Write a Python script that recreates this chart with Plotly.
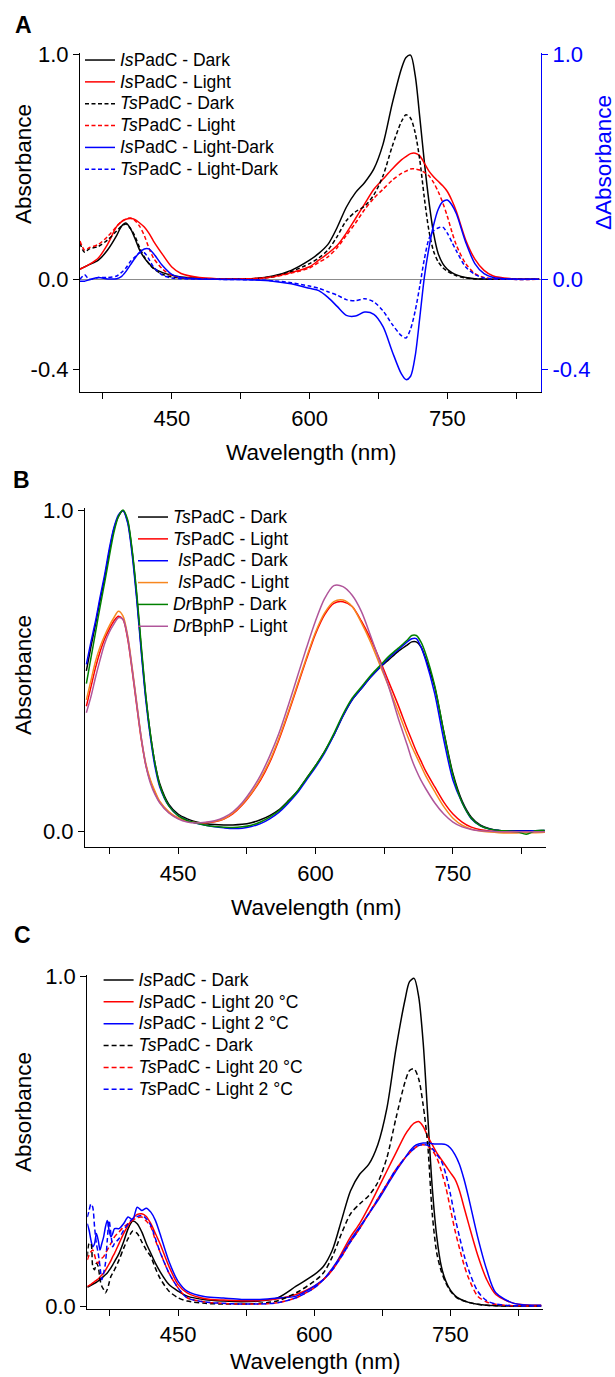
import plotly.graph_objects as go

# ---------------- data ----------------
WL_A = [350, 355, 360, 370, 380, 390, 395, 400, 405, 410, 415, 420, 425, 430, 440, 450, 460, 480, 500, 520,
        540, 560, 580, 600, 610, 620, 630, 640, 650, 660, 670, 680, 690, 700, 705, 710, 715, 720, 725, 730,
        735, 740, 745, 750, 755, 760, 770, 780, 790, 800, 820, 850]
A_IS_DARK = [0.045, 0.055, 0.065, 0.085, 0.13, 0.195, 0.235, 0.25, 0.225, 0.18, 0.13, 0.095, 0.07, 0.05, 0.03, 0.018, 0.01, 0.004, 0.002, 0.002,
             0.004, 0.015, 0.04, 0.085, 0.115, 0.155, 0.23, 0.32, 0.385, 0.43, 0.49, 0.60, 0.78, 0.935, 0.985, 0.995, 0.905, 0.72, 0.52, 0.345,
             0.205, 0.115, 0.07, 0.045, 0.03, 0.02, 0.008, 0.003, 0.001, 0.0, 0.0, 0.0]
A_IS_LIGHT = [0.045, 0.055, 0.066, 0.095, 0.155, 0.235, 0.255, 0.267, 0.27, 0.265, 0.25, 0.232, 0.205, 0.17, 0.11, 0.055, 0.026, 0.008, 0.003, 0.002,
              0.004, 0.012, 0.03, 0.056, 0.085, 0.115, 0.15, 0.205, 0.27, 0.335, 0.40, 0.445, 0.49, 0.53, 0.545, 0.558, 0.56, 0.548, 0.515, 0.48,
              0.455, 0.435, 0.415, 0.39, 0.35, 0.30, 0.175, 0.09, 0.04, 0.015, 0.003, 0.0]
A_TS_DARK = [0.16, 0.12, 0.135, 0.146, 0.175, 0.215, 0.235, 0.245, 0.225, 0.19, 0.14, 0.10, 0.07, 0.048, 0.022, 0.011, 0.006, 0.003, 0.002, 0.002,
             0.003, 0.012, 0.035, 0.07, 0.095, 0.13, 0.19, 0.26, 0.30, 0.325, 0.375, 0.46, 0.59, 0.70, 0.73, 0.715, 0.65, 0.53, 0.36, 0.215,
             0.125, 0.078, 0.052, 0.036, 0.025, 0.016, 0.006, 0.002, 0.001, 0.0, 0.0, 0.0]
A_TS_LIGHT = [0.17, 0.13, 0.14, 0.155, 0.19, 0.235, 0.257, 0.268, 0.272, 0.26, 0.235, 0.195, 0.14, 0.095, 0.045, 0.018, 0.008, 0.003, 0.002, 0.002,
              0.003, 0.01, 0.028, 0.05, 0.075, 0.10, 0.14, 0.195, 0.25, 0.31, 0.36, 0.40, 0.44, 0.47, 0.48, 0.49, 0.49, 0.485, 0.475, 0.46,
              0.43, 0.39, 0.34, 0.28, 0.21, 0.15, 0.07, 0.025, 0.008, 0.003, 0.0, 0.0]
A_IS_DIFF = [-0.008, -0.008, -0.002, 0.008, 0.002, 0.003, 0.012, 0.035, 0.065, 0.095, 0.12, 0.135, 0.135, 0.115, 0.06, 0.022, 0.008, 0.002, 0.0, -0.001,
             -0.003, -0.008, -0.02, -0.04, -0.05, -0.08, -0.12, -0.16, -0.163, -0.145, -0.155, -0.21, -0.32, -0.42, -0.445, -0.43, -0.34, -0.17, 0.01, 0.14,
             0.24, 0.31, 0.345, 0.352, 0.33, 0.29, 0.165, 0.07, 0.025, 0.008, 0.001, 0.0]
A_TS_DIFF = [0.0, 0.02, 0.0, 0.008, 0.008, 0.015, 0.03, 0.05, 0.08, 0.10, 0.118, 0.118, 0.09, 0.055, 0.018, 0.006, 0.003, 0.001, 0.0, -0.001,
             -0.002, -0.006, -0.015, -0.03, -0.04, -0.055, -0.07, -0.09, -0.095, -0.086, -0.10, -0.14, -0.20, -0.25, -0.26, -0.22, -0.14, -0.03, 0.09, 0.18,
             0.215, 0.228, 0.232, 0.205, 0.165, 0.125, 0.055, 0.022, 0.006, 0.002, 0.0, 0.0]

WL_B = [350, 355, 360, 365, 370, 375, 380, 385, 390, 395, 400, 405, 410, 415, 420, 425, 430,
        440, 450, 460, 470, 480, 490, 500, 510, 520, 530, 540, 550, 560, 570, 580, 590, 600, 610, 620, 630, 640, 650, 660, 670, 680, 690, 700,
        705, 710, 715, 720,
        730, 740, 750, 760, 770, 780, 790, 800, 810, 820, 830, 840, 850]
B_TS_DARK = [0.50, 0.575, 0.645, 0.72, 0.79, 0.87, 0.94, 0.98, 0.998, 0.965, 0.87, 0.73, 0.565, 0.415, 0.30, 0.21, 0.15,
             0.085, 0.055, 0.04, 0.03, 0.025, 0.022, 0.021, 0.021, 0.023, 0.028, 0.037, 0.05, 0.068, 0.095, 0.125, 0.165, 0.205, 0.25, 0.30, 0.36, 0.41, 0.445, 0.48, 0.51, 0.535, 0.56, 0.58,
             0.59, 0.59, 0.575, 0.54,
             0.45, 0.31, 0.18, 0.095, 0.045, 0.02, 0.009, 0.004, 0.003, 0.003, 0.003, 0.003, 0.004]
B_TS_LIGHT = [0.39, 0.45, 0.51, 0.56, 0.60, 0.63, 0.655, 0.67, 0.66, 0.60, 0.50, 0.39, 0.285, 0.205, 0.155, 0.12, 0.092,
              0.06, 0.042, 0.032, 0.028, 0.028, 0.031, 0.039, 0.056, 0.083, 0.118, 0.16, 0.215, 0.285, 0.365, 0.45, 0.535, 0.615, 0.675, 0.71, 0.715, 0.70, 0.655, 0.60, 0.535, 0.465, 0.395, 0.32,
              0.285, 0.25, 0.22, 0.19,
              0.14, 0.092, 0.055, 0.03, 0.014, 0.006, 0.002, 0.0, -0.001, -0.002, -0.002, -0.002, -0.002]
B_IS_DARK = [0.52, 0.59, 0.655, 0.73, 0.80, 0.88, 0.945, 0.985, 0.998, 0.96, 0.86, 0.72, 0.555, 0.405, 0.29, 0.20, 0.14,
             0.08, 0.05, 0.035, 0.026, 0.02, 0.015, 0.012, 0.01, 0.011, 0.016, 0.025, 0.04, 0.06, 0.088, 0.12, 0.16, 0.20, 0.245, 0.30, 0.36, 0.41, 0.445, 0.48, 0.51, 0.54, 0.565, 0.59,
             0.60, 0.60, 0.575, 0.535,
             0.43, 0.285, 0.16, 0.09, 0.04, 0.018, 0.008, 0.004, 0.002, 0.002, 0.002, 0.003, 0.004]
B_IS_LIGHT = [0.41, 0.47, 0.53, 0.575, 0.61, 0.64, 0.665, 0.685, 0.67, 0.61, 0.51, 0.40, 0.29, 0.21, 0.16, 0.125, 0.095,
              0.062, 0.043, 0.033, 0.028, 0.028, 0.032, 0.04, 0.058, 0.085, 0.12, 0.165, 0.22, 0.29, 0.37, 0.455, 0.54, 0.62, 0.68, 0.715, 0.72, 0.70, 0.65, 0.59, 0.52, 0.45, 0.375, 0.30,
              0.265, 0.235, 0.205, 0.175,
              0.125, 0.078, 0.042, 0.02, 0.008, 0.002, -0.001, -0.003, -0.004, -0.004, -0.003, -0.003, -0.002]
B_DR_DARK = [0.46, 0.54, 0.62, 0.70, 0.775, 0.855, 0.93, 0.98, 1.0, 0.97, 0.875, 0.74, 0.575, 0.42, 0.30, 0.21, 0.145,
             0.08, 0.05, 0.035, 0.027, 0.02, 0.016, 0.014, 0.013, 0.015, 0.02, 0.03, 0.045, 0.065, 0.093, 0.125, 0.165, 0.205, 0.25, 0.305, 0.365, 0.415, 0.45, 0.485, 0.515, 0.545, 0.57, 0.595,
             0.61, 0.61, 0.59, 0.555,
             0.455, 0.31, 0.175, 0.09, 0.042, 0.018, 0.008, 0.004, 0.002, 0.0, -0.008, 0.003, 0.004]
B_DR_LIGHT = [0.37, 0.42, 0.48, 0.535, 0.585, 0.62, 0.645, 0.665, 0.66, 0.605, 0.505, 0.395, 0.29, 0.205, 0.15, 0.115, 0.09,
              0.058, 0.04, 0.03, 0.027, 0.029, 0.034, 0.044, 0.062, 0.09, 0.128, 0.175, 0.235, 0.305, 0.39, 0.48, 0.57, 0.655, 0.725, 0.765, 0.762, 0.735, 0.685, 0.61, 0.53, 0.45, 0.355, 0.27,
              0.225, 0.19, 0.16, 0.135,
              0.09, 0.055, 0.03, 0.015, 0.007, 0.003, 0.001, 0.0, 0.0, 0.0, 0.0, 0.0, 0.0]

WL_C = [350, 352, 354, 356, 358, 360, 362, 364, 366, 368, 370, 372, 374, 376, 378, 380,
        385, 390, 395, 400, 405, 410, 415, 420, 425, 430,
        440, 450, 460,
        480, 500, 520, 540, 560, 580,
        600,
        610, 620, 630, 640, 650, 660, 670, 680, 690, 700,
        705, 710, 715, 720, 725, 730, 735, 740, 745, 750, 755, 760, 765, 770,
        780, 790, 800, 820, 850]
C_IS_DARK = [0.057, 0.06, 0.063, 0.066, 0.069, 0.072, 0.076, 0.08, 0.085, 0.09, 0.095, 0.10, 0.108, 0.116, 0.125, 0.135,
             0.16, 0.195, 0.235, 0.258, 0.25, 0.225, 0.19, 0.16, 0.13, 0.105,
             0.065, 0.045, 0.03,
             0.019, 0.015, 0.013, 0.015, 0.025, 0.06,
             0.095,
             0.12, 0.17, 0.26, 0.35, 0.40, 0.43, 0.49, 0.60, 0.78, 0.93,
             0.985, 0.995, 0.94, 0.80, 0.58, 0.36, 0.21, 0.12, 0.075, 0.048, 0.032, 0.022, 0.016, 0.011,
             0.005, 0.002, 0.001, 0.0, 0.0]
C_IS_L20 = [0.06, 0.062, 0.066, 0.07, 0.074, 0.078, 0.082, 0.088, 0.094, 0.10, 0.108, 0.118, 0.128, 0.138, 0.15, 0.16,
            0.19, 0.22, 0.245, 0.265, 0.278, 0.28, 0.272, 0.25, 0.22, 0.19,
            0.12, 0.065, 0.04,
            0.022, 0.018, 0.016, 0.017, 0.022, 0.035,
            0.06,
            0.08, 0.11, 0.16, 0.21, 0.25, 0.30, 0.355, 0.41, 0.465, 0.52,
            0.54, 0.555, 0.56, 0.545, 0.515, 0.49, 0.465, 0.445, 0.425, 0.405, 0.385, 0.35, 0.30, 0.25,
            0.155, 0.08, 0.035, 0.008, 0.002]
C_IS_L2 = [0.25, 0.23, 0.20, 0.18, 0.19, 0.22, 0.20, 0.17, 0.19, 0.21, 0.24, 0.26, 0.23, 0.21, 0.22, 0.235,
           0.235, 0.25, 0.27, 0.262, 0.30, 0.29, 0.297, 0.285, 0.26, 0.22,
           0.135, 0.075, 0.045,
           0.028, 0.024, 0.02, 0.02, 0.024, 0.03,
           0.06,
           0.08, 0.115, 0.155, 0.20, 0.24, 0.28, 0.32, 0.365, 0.41, 0.45,
           0.47, 0.485, 0.492, 0.495, 0.495, 0.493, 0.492, 0.492, 0.49, 0.48, 0.46, 0.43, 0.385, 0.33,
           0.21, 0.11, 0.04, 0.008, 0.002]
C_TS_DARK = [0.15, 0.19, 0.19, 0.12, 0.11, 0.13, 0.12, 0.08, 0.06, 0.05, 0.04, 0.05, 0.07, 0.09, 0.10, 0.11,
             0.14, 0.175, 0.205, 0.228, 0.22, 0.195, 0.17, 0.15, 0.115, 0.085,
             0.045, 0.025, 0.015,
             0.008, 0.006, 0.006, 0.008, 0.016, 0.04,
             0.075,
             0.10, 0.15, 0.22, 0.28, 0.31, 0.335, 0.375, 0.45, 0.57, 0.68,
             0.715, 0.72, 0.69, 0.61, 0.49, 0.28, 0.16, 0.105, 0.07, 0.045, 0.03, 0.02, 0.015, 0.011,
             0.005, 0.002, 0.001, 0.0, 0.0]
C_TS_L20 = [0.14, 0.155, 0.165, 0.17, 0.155, 0.135, 0.13, 0.14, 0.145, 0.15, 0.16, 0.17, 0.18, 0.19, 0.20, 0.21,
            0.225, 0.24, 0.25, 0.26, 0.268, 0.27, 0.258, 0.24, 0.20, 0.165,
            0.10, 0.055, 0.025,
            0.012, 0.008, 0.006, 0.006, 0.01, 0.025,
            0.055,
            0.08, 0.11, 0.15, 0.195, 0.235, 0.28, 0.325, 0.37, 0.415, 0.45,
            0.465, 0.478, 0.487, 0.49, 0.485, 0.473, 0.45, 0.41, 0.36, 0.295, 0.23, 0.175, 0.125, 0.085,
            0.03, 0.012, 0.005, 0.001, 0.0]
C_TS_L2 = [0.27, 0.29, 0.31, 0.30, 0.24, 0.19, 0.16, 0.12, 0.08, 0.10, 0.13, 0.20, 0.26, 0.22, 0.18, 0.19,
           0.205, 0.23, 0.25, 0.265, 0.272, 0.275, 0.265, 0.245, 0.205, 0.165,
           0.10, 0.055, 0.025,
           0.012, 0.008, 0.006, 0.006, 0.01, 0.025,
           0.055,
           0.08, 0.11, 0.15, 0.195, 0.235, 0.28, 0.325, 0.37, 0.415, 0.45,
           0.465, 0.478, 0.487, 0.49, 0.488, 0.478, 0.46, 0.44, 0.40, 0.34, 0.27, 0.21, 0.155, 0.11,
           0.045, 0.016, 0.006, 0.001, 0.0]

X_TICKS = [450, 600, 750]
X_MINOR = [375, 525, 675, 825]
Y_TICKS_A = [-0.4, 0.0, 1.0]
Y_TEXT_A = ["-0.4", "0.0", "1.0"]
Y_TICKS_BC = [0.0, 1.0]
Y_TEXT_BC = ["0.0", "1.0"]

# ---------------- styling ----------------
W, H = 615, 1377
FONT = "Liberation Sans, Arial, Helvetica, sans-serif"
BLACK, RED, BLUE = "#000000", "#ff0000", "#0000ff"
ORANGE, GREEN, PURPLE = "#f7871f", "#008000", "#b0559a"
LW = 1.5
DASH_A = "4px,2.5px"
DASH_C = "5px,3px"
TITLE_SIZE = 22.5
TICK_SIZE = 22


def px(x):
    return x / W


def py(y):
    return 1 - y / H


def lab(t):
    return '<span style="font-size:17.5px">' + t + '</span>'


fig = go.Figure()


def add(x, y, name, color, dash, xa, ya, leg):
    fig.add_trace(go.Scatter(
        x=x, y=y, name=lab(name), mode="lines",
        line=dict(color=color, width=LW, dash=dash, shape="spline", smoothing=0.8),
        xaxis=xa, yaxis=ya, legend=leg, hoverinfo="skip"))


# Panel A
add(WL_A, A_IS_DARK, "<i>Is</i>PadC - Dark", BLACK, "solid", "x", "y", "legend")
add(WL_A, A_IS_LIGHT, "<i>Is</i>PadC - Light", RED, "solid", "x", "y", "legend")
add(WL_A, A_TS_DARK, "<i>Ts</i>PadC - Dark", BLACK, DASH_A, "x", "y", "legend")
add(WL_A, A_TS_LIGHT, "<i>Ts</i>PadC - Light", RED, DASH_A, "x", "y", "legend")
add(WL_A, A_IS_DIFF, "<i>Is</i>PadC - Light-Dark", BLUE, "solid", "x", "y4", "legend")
add(WL_A, A_TS_DIFF, "<i>Ts</i>PadC - Light-Dark", BLUE, DASH_A, "x", "y4", "legend")

# Panel B
add(WL_B, B_TS_DARK, "<i>Ts</i>PadC - Dark", BLACK, "solid", "x2", "y2", "legend2")
add(WL_B, B_TS_LIGHT, "<i>Ts</i>PadC - Light", RED, "solid", "x2", "y2", "legend2")
add(WL_B, B_IS_DARK, "\u00a0<i>Is</i>PadC - Dark", BLUE, "solid", "x2", "y2", "legend2")
add(WL_B, B_IS_LIGHT, "\u00a0<i>Is</i>PadC - Light", ORANGE, "solid", "x2", "y2", "legend2")
add(WL_B, B_DR_DARK, "<i>Dr</i>BphP - Dark", GREEN, "solid", "x2", "y2", "legend2")
add(WL_B, B_DR_LIGHT, "<i>Dr</i>BphP - Light", PURPLE, "solid", "x2", "y2", "legend2")

# Panel C
add(WL_C, C_IS_DARK, "<i>Is</i>PadC - Dark", BLACK, "solid", "x3", "y3", "legend3")
add(WL_C, C_IS_L20, "<i>Is</i>PadC - Light 20 °C", RED, "solid", "x3", "y3", "legend3")
add(WL_C, C_IS_L2, "<i>Is</i>PadC - Light 2 °C", BLUE, "solid", "x3", "y3", "legend3")
add(WL_C, C_TS_DARK, "<i>Ts</i>PadC - Dark", BLACK, DASH_C, "x3", "y3", "legend3")
add(WL_C, C_TS_L20, "<i>Ts</i>PadC - Light 20 °C", RED, DASH_C, "x3", "y3", "legend3")
add(WL_C, C_TS_L2, "<i>Ts</i>PadC - Light 2 °C", BLUE, DASH_C, "x3", "y3", "legend3")

TICKFONT = dict(family=FONT, size=TICK_SIZE, color="black")


def xax(dom, rng, anchor):
    return dict(domain=[px(dom[0]), px(dom[1])], range=rng, anchor=anchor, automargin=False,
                tickmode="array", tickvals=X_TICKS, ticks="outside", ticklen=6, tickwidth=1.2,
                tickcolor="black", showline=True, linecolor="black", linewidth=1.2,
                showgrid=False, zeroline=False, tickfont=TICKFONT,
                minor=dict(tickmode="array", tickvals=X_MINOR, ticks="outside", ticklen=6,
                           tickwidth=1.2, tickcolor="black", showgrid=False))


def yax(dom, rng, anchor, tv, tt, color="black", side="left", zl=False, overlay=None):
    d = dict(domain=[py(dom[1]), py(dom[0])], range=rng, anchor=anchor, side=side, automargin=False,
             tickmode="array", tickvals=tv, ticktext=tt, ticks="outside", ticklen=6,
             tickwidth=1.2, tickcolor=color, showline=True, linecolor=color, linewidth=1.2,
             showgrid=False, zeroline=zl, zerolinecolor="#8c8c8c", zerolinewidth=1.2,
             tickfont=dict(family=FONT, size=TICK_SIZE, color=color))
    if overlay:
        d["overlaying"] = overlay
        d.pop("domain")
    return d


LEG = dict(xanchor="left", yanchor="top", bgcolor="rgba(0,0,0,0)", borderwidth=0,
           font=dict(family=FONT, size=14.5, color="black"), itemwidth=30,
           itemclick=False, itemdoubleclick=False)

fig.update_layout(
    width=W, height=H, autosize=False,
    margin=dict(l=0, r=0, t=0, b=0, pad=0, autoexpand=False),
    paper_bgcolor="white", plot_bgcolor="white",
    font=dict(family=FONT, color="black"),
    xaxis=xax((80, 541), [350, 852], "y"),
    yaxis=yax((52.9, 392), [-0.5, 1.005], "x", Y_TICKS_A, Y_TEXT_A, zl=True),
    yaxis4=yax((52.9, 392), [-0.5, 1.005], "x", Y_TICKS_A, Y_TEXT_A, color=BLUE, side="right", overlay="y"),
    xaxis2=xax((85, 546), [348.5, 851.5], "y2"),
    yaxis2=yax((508.4, 847), [-0.0476, 1.005], "x2", Y_TICKS_BC, Y_TEXT_BC),
    xaxis3=xax((87.3, 543), [350, 852], "y3"),
    yaxis3=yax((975.05, 1308.5), [-0.0076, 1.005], "x3", Y_TICKS_BC, Y_TEXT_BC),
    legend=dict(LEG, x=px(80), y=py(44.1)),
    legend2=dict(LEG, x=px(133), y=py(501.1)),
    legend3=dict(LEG, x=px(98.6), y=py(964.1)),
    showlegend=True,
)


def note(text, x, y, size=TITLE_SIZE, color="black", angle=0, bold=False):
    fig.add_annotation(text=("<b>" + text + "</b>") if bold else text,
                       x=px(x), y=py(y), xref="paper", yref="paper",
                       xanchor="center", yanchor="middle", showarrow=False, textangle=angle,
                       font=dict(family=FONT, size=size, color=color))


note("A", 23, 25, size=23, bold=True)
note("B", 21, 480, size=23, bold=True)
note("C", 22, 935, size=23, bold=True)
note("Absorbance", 23, 164, angle=-90)
note("ΔAbsorbance", 603, 163, color=BLUE, angle=-90)
note("Wavelength (nm)", 310.5, 453)
note("Absorbance", 23, 675, angle=-90)
note("Wavelength (nm)", 315.5, 907)
note("Absorbance", 23, 1112, angle=-90)
note("Wavelength (nm)", 315, 1361)

fig.write_html(
    "out.html",
    config={"displayModeBar": False, "responsive": False},
    post_script="document.body.style.margin='0';document.body.style.padding='0';"
                "document.documentElement.style.overflow='hidden';",
)
